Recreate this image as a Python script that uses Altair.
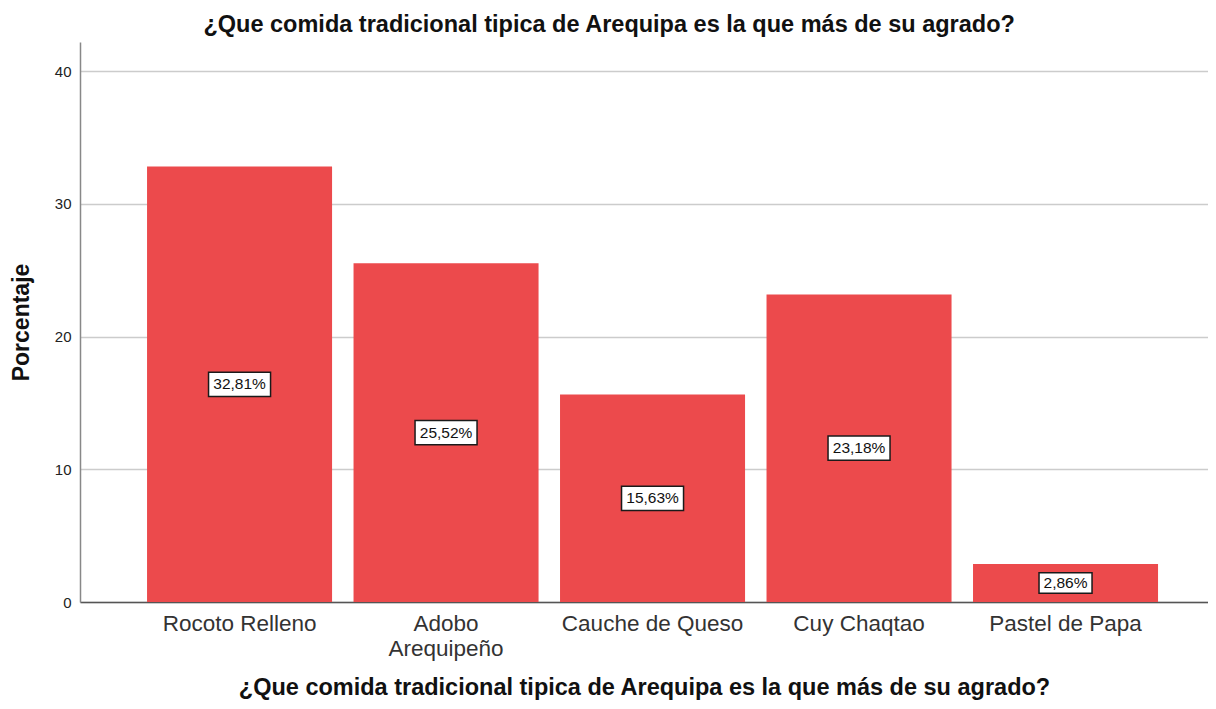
import altair as alt
import pandas as pd

categorias = ["Rocoto Relleno", "Adobo Arequipeño", "Cauche de Queso", "Cuy Chaqtao", "Pastel de Papa"]
porcentajes = [32.81, 25.52, 15.63, 23.18, 2.86]
etiquetas = [f"{v:.2f}".replace(".", ",") + "%" for v in porcentajes]
y_ticks = [0, 10, 20, 30, 40]

titulo = "¿Que comida tradicional tipica de Arequipa es la que más de su agrado?"

df = pd.DataFrame({"cat": categorias, "pct": porcentajes, "lab": etiquetas})

FONT = "Liberation Sans"

x_enc = alt.X(
    "cat:N",
    sort=categorias,
    title=titulo,
    scale=alt.Scale(paddingInner=0.104, paddingOuter=0.2833, align=0.573),
    axis=alt.Axis(
        labelAngle=0,
        labelFont=FONT,
        labelFontSize=22.5,
        labelColor="#333333",
        labelPadding=10,
        labelLineHeight=25,
        labelLimit=400,
        labelExpr="datum.label == 'Adobo Arequipeño' ? ['Adobo', 'Arequipeño'] : datum.label",
        ticks=False,
        domainColor="#555555",
        domainWidth=1.5,
        titleFont=FONT,
        titleFontSize=23.5,
        titleFontWeight="bold",
        titleColor="#111111",
        titlePadding=16,
    ),
)

bars = alt.Chart(df).mark_bar(color="#EC4A4C").encode(
    x=x_enc,
    y=alt.Y(
        "pct:Q",
        title="Porcentaje",
        scale=alt.Scale(domain=[0, 42.2], nice=False),
        axis=alt.Axis(
            values=y_ticks,
            labelFont=FONT,
            labelFontSize=15,
            labelColor="#222222",
            ticks=False,
            labelPadding=9,
            domainColor="#888888",
            domainWidth=1.5,
            gridColor="#CCCCCC",
            gridWidth=1.5,
            titleFont=FONT,
            titleFontSize=23,
            titleFontWeight="bold",
            titleColor="#111111",
            titlePadding=21,
        ),
    ),
)

base_lab = alt.Chart(df).transform_calculate(
    mid="datum.pct / 2",
    sz="pow(9 * length(datum.lab) + 8, 2)",
)

boxes = base_lab.mark_point(
    shape="M-1,-0.39L1,-0.39L1,0.39L-1,0.39Z",
    filled=True,
    fill="white",
    stroke="#1a1a1a",
    strokeWidth=1.5,
    opacity=1,
).encode(
    x=alt.X("cat:N", sort=categorias),
    y=alt.Y("mid:Q"),
    size=alt.Size("sz:Q", scale=None),
)

texts = base_lab.mark_text(
    font=FONT, fontSize=15.5, color="#111111", baseline="middle", align="center"
).encode(
    x=alt.X("cat:N", sort=categorias),
    y=alt.Y("mid:Q"),
    text="lab:N",
)

chart = (
    alt.layer(bars, boxes, texts)
    .properties(
        width=1128,
        height=560,
        title=alt.TitleParams(
            titulo,
            font=FONT,
            fontSize=23.5,
            fontWeight="bold",
            color="#111111",
            anchor="middle",
            frame="bounds",
            offset=6,
        ),
        autosize=alt.AutoSizeParams(type="none"),
        padding={"left": 72, "top": 34, "right": 0, "bottom": 99},
    )
    .configure_view(stroke=None)
    .configure_axisX(grid=False)
)

chart.save("out.html", embed_options={"renderer": "svg", "actions": False})
